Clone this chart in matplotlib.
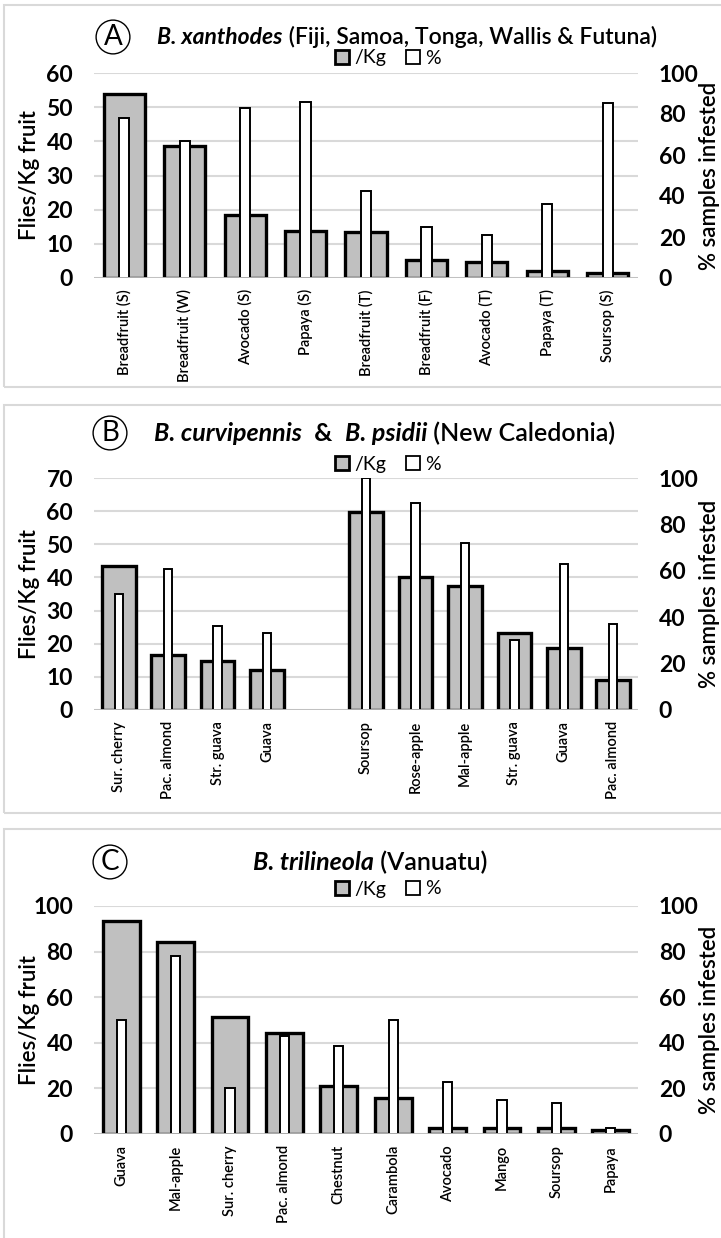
import matplotlib
matplotlib.use("Agg")
import matplotlib.pyplot as plt
from matplotlib.patches import Patch, Rectangle
import numpy as np

# --- DATA ---
A_FRUITS = ["Breadfruit (S)", "Breadfruit (W)", "Avocado (S)", "Papaya (S)",
            "Breadfruit (T)", "Breadfruit (F)", "Avocado (T)", "Papaya (T)", "Soursop (S)"]
A_PER_KG = [54, 38.6, 18.3, 13.8, 13.5, 5.3, 4.7, 2.1, 1.6]
A_PCT = [78, 66.7, 83, 86, 42.5, 25, 21, 36.3, 85.5]

B_CURV_FRUITS = ["Sur. cherry", "Pac. almond", "Str. guava", "Guava"]
B_CURV_PER_KG = [43.5, 16.5, 14.7, 12.1]
B_CURV_PCT = [50, 60.7, 36.4, 33.3]
B_PSID_FRUITS = ["Soursop", "Rose-apple", "Mal-apple", "Str. guava", "Guava", "Pac. almond"]
B_PSID_PER_KG = [59.8, 40.2, 37.3, 23.3, 18.7, 9]
B_PSID_PCT = [100, 89.3, 72, 30, 63, 37]

C_FRUITS = ["Guava", "Mal-apple", "Sur. cherry", "Pac. almond", "Chestnut",
            "Carambola", "Avocado", "Mango", "Soursop", "Papaya"]
C_PER_KG = [93.5, 84, 51.2, 44.5, 21, 16, 2.8, 2.6, 2.5, 1.8]
C_PCT = [50, 78, 20, 43, 38.5, 50, 23, 15, 13.5, 2.5]

# --- STYLE ---
FONT = "Lato"
GRAY = "#c0c0c0"
GRID = "#d9d9d9"
W, H = 721, 1238
plt.rcParams["font.family"] = [FONT, "DejaVu Sans"]

fig = plt.figure(figsize=(W / 100, H / 100), dpi=100)


def px_axes(left, top, right, bottom):
    return fig.add_axes([left / W, 1 - bottom / H, (right - left) / W, (bottom - top) / H])


def panel_frame(top, bottom):
    fig.patches.append(Rectangle((4 / W, 1 - bottom / H), (W + 10) / W, (bottom - top) / H,
                                 transform=fig.transFigure, fill=False,
                                 ec=GRID, lw=1.5, clip_on=False))


def rich_title(xc, y, parts, size=18):
    """Draw title pieces (text, weight, style) side by side, centred at xc (pixels)."""
    renderer = fig.canvas.get_renderer()
    items = []
    for s, weight, style in parts:
        t = fig.text(0, 1 - y / H, s, fontsize=size, fontweight=weight, style=style,
                     va="center", ha="left")
        items.append((t, t.get_window_extent(renderer).width))
    total = sum(w for _, w in items)
    x = xc - total / 2
    for t, w in items:
        t.set_x(x / W)
        x += w


def circle_label(x, y, letter):
    fig.text(x / W, 1 - y / H, letter, fontsize=20, ha="center", va="center",
             bbox=dict(boxstyle="circle,pad=0.14", fc="white", ec="black", lw=1))


def draw_panel(ax, pos, labels, per_kg, pct, ymax, ystep, legend_gap):
    ax2 = ax.twinx()
    ax.bar(pos, per_kg, width=0.68, color=GRAY, edgecolor="black", linewidth=2.4, zorder=2)
    ax2.bar(pos, pct, width=0.17, color="white", edgecolor="black", linewidth=1.4, zorder=3)
    ax2.axhline(0, color="#bfbfbf", lw=2, zorder=5)

    ax.set_ylim(0, ymax)
    ax.set_yticks(np.arange(0, ymax + 1, ystep))
    ax2.set_ylim(0, 100)
    ax2.set_yticks(np.arange(0, 101, 20))
    ax.grid(axis="y", color=GRID, lw=1.5, zorder=0)
    ax.set_axisbelow(True)

    ax.set_xticks(pos)
    ax.set_xticklabels(labels, rotation=90, fontsize=10.5, fontweight="semibold")
    for a in (ax, ax2):
        for sp in a.spines.values():
            sp.set_visible(False)
        a.tick_params(length=0)
    ax.tick_params(axis="y", labelsize=16.5, pad=15)
    ax2.tick_params(axis="y", labelsize=16.5, pad=15)
    ax.tick_params(axis="x", pad=8)
    for lab in ax.get_yticklabels() + ax2.get_yticklabels():
        lab.set_fontweight("bold")

    ax.set_ylabel("Flies/Kg fruit", fontsize=16, fontweight="semibold")
    ax.yaxis.set_label_coords(-0.099, 0.5)
    ax2.set_ylabel("% samples infested", fontsize=16, fontweight="semibold", rotation=90)
    ax2.yaxis.set_label_coords(1.112, 0.5)

    handles = [Patch(fc=GRAY, ec="black", lw=2), Patch(fc="white", ec="black", lw=1.3)]
    h = ax.get_position().height * H
    ax.legend(handles, ["/Kg", "%"], ncol=2, loc="center", frameon=False,
              bbox_to_anchor=(0.54, 1 + legend_gap / h), fontsize=14,
              handlelength=0.75, handleheight=0.75, handletextpad=0.25,
              columnspacing=1.0, borderpad=0)
    return ax2


# --- Panel A ---
panel_frame(5, 387)
axA = px_axes(94, 73, 638, 278)
posA = np.arange(len(A_FRUITS))
axA.set_xlim(-0.5, len(A_FRUITS) - 0.5)
draw_panel(axA, posA, A_FRUITS, A_PER_KG, A_PCT, 60, 10, 15)
circle_label(113, 37, "A")
rich_title(407, 37, [("B. xanthodes", "bold", "italic"),
                     (" (Fiji, Samoa, Tonga, Wallis & Futuna)", "semibold", "normal")],
           size=16.5)

# --- Panel B (two species, gap between groups) ---
panel_frame(405, 813)
axB = px_axes(94, 478, 638, 710)
posB = np.concatenate([np.arange(len(B_CURV_FRUITS)),
                       np.arange(len(B_PSID_FRUITS)) + len(B_CURV_FRUITS) + 1])
axB.set_xlim(-0.5, posB[-1] + 0.5)
draw_panel(axB, posB, B_CURV_FRUITS + B_PSID_FRUITS,
           B_CURV_PER_KG + B_PSID_PER_KG, B_CURV_PCT + B_PSID_PCT, 70, 10, 14)
circle_label(110, 433, "B")
rich_title(385, 433, [("B. curvipennis", "bold", "italic"),
                      ("  &  ", "bold", "normal"),
                      ("B. psidii", "bold", "italic"),
                      (" (New Caledonia)", "semibold", "normal")])

# --- Panel C ---
panel_frame(829, 1245)
axC = px_axes(94, 906, 638, 1134)
posC = np.arange(len(C_FRUITS))
axC.set_xlim(-0.5, len(C_FRUITS) - 0.5)
draw_panel(axC, posC, C_FRUITS, C_PER_KG, C_PCT, 100, 20, 17)
circle_label(110, 862, "C")
rich_title(370, 862, [("B. trilineola", "bold", "italic"),
                      (" (Vanuatu)", "semibold", "normal")])

fig.savefig("out.png", dpi=100, facecolor="white")
